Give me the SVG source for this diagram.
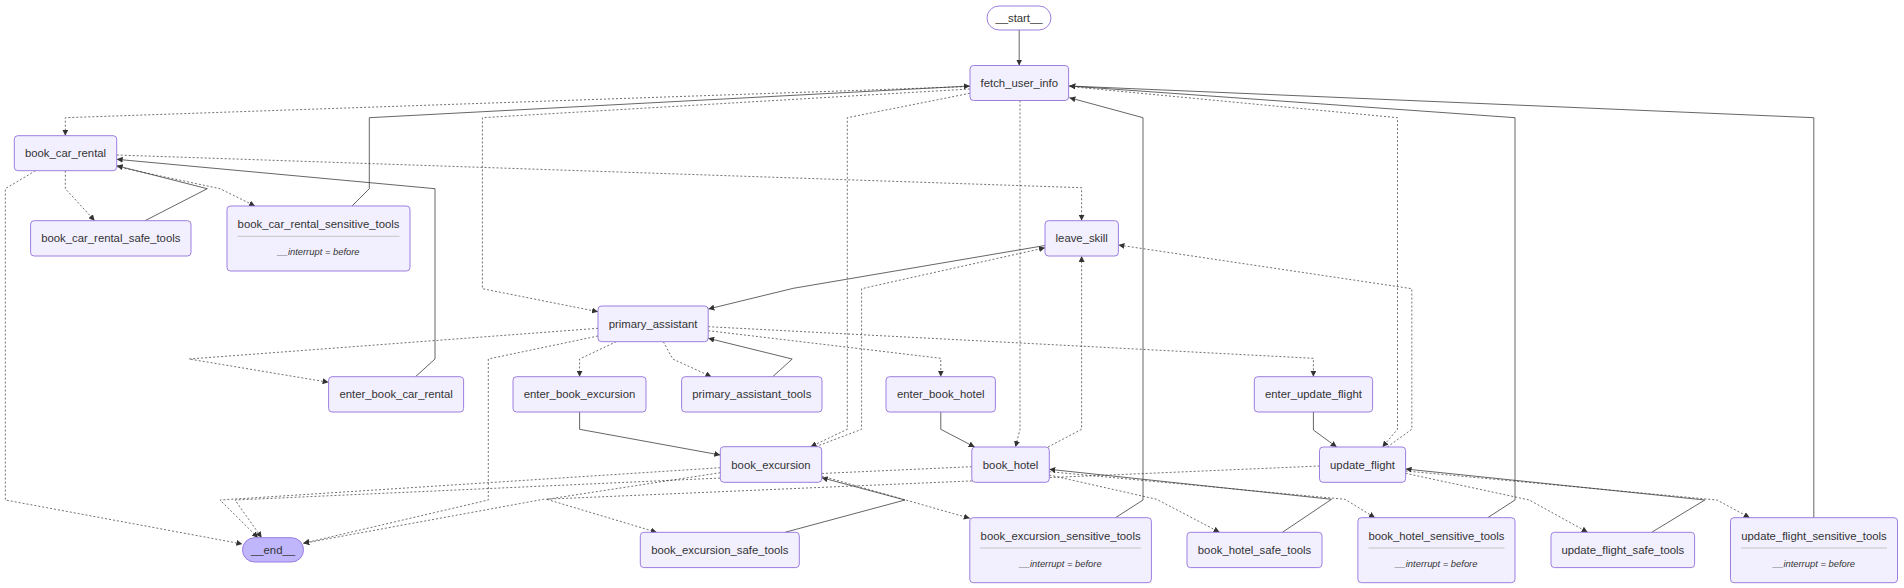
<svg xmlns="http://www.w3.org/2000/svg" width="1904" height="588" viewBox="0 0 1904 588">
<defs>
<style>
.n rect{fill:#f2f0ff;stroke:#9370db;stroke-width:0.9}
.n text{font-family:"Liberation Sans",Arial,sans-serif;font-size:11.33px;fill:#333;text-anchor:middle}
.n text.i{font-size:9.4px;font-style:italic}
.n line{stroke:#c4c4c4;stroke-width:1}
.e path{fill:none;stroke:#333;stroke-width:0.75;marker-end:url(#arr)}
.e path.d{stroke-dasharray:2 2;stroke-width:0.7}
</style>
<marker id="arr" viewBox="0 0 10 10" refX="10" refY="5" markerUnits="userSpaceOnUse" markerWidth="6" markerHeight="6" orient="auto"><path d="M0,0 L10,5 L0,10 z" fill="#333"/></marker>
</defs>
<rect width="1904" height="588" fill="#fff"/>
<g id="edges" class="e">
<path d="M1019.2,30 L1019.2,65.5"/>
<path class="d" d="M969.8,86.5 L65.3,117.7 L65.3,135.7"/>
<path class="d" d="M969.8,89 L482.4,117.7 L482.4,288.7 L598,311.7"/>
<path class="d" d="M969.8,93.3 L847.3,117.7 L847.3,429.3 L810.6,446.7"/>
<path class="d" d="M1020,100.5 L1020,429.3 L1015.5,447"/>
<path class="d" d="M1069.4,86.5 L1397.5,117.7 L1397.5,429.3 L1382.4,447"/>
<path d="M352,206 L369.3,188.7 L369.3,117.7 L969.8,86"/>
<path d="M1115.5,517.7 L1143,500 L1143,117.7 L1069.4,97.7"/>
<path d="M1487.7,517.7 L1515,500 L1515,117.7 L1069.4,86"/>
<path d="M1813.8,517.7 L1813.8,117.7 L1069.4,86"/>
<path class="d" d="M65.3,170.7 L65.3,188.7 L94.7,220.7"/>
<path d="M145,220.7 L207.3,188.7 L116.7,165.7"/>
<path class="d" d="M116.7,166.7 L220,188.7 L255,206"/>
<path class="d" d="M116.7,155 L1081.6,187.7 L1081.6,220.7"/>
<path class="d" d="M35.5,170.7 L5.3,188.7 L5.3,500 L242.4,544"/>
<path d="M415.5,376.7 L435,359 L435,188.7 L116.7,159.3"/>
<path d="M1045,245.5 L793.3,288.3 L708.3,309"/>
<path class="d" d="M598,328.3 L189,359 L328.6,382.3"/>
<path class="d" d="M598,336 L488.3,359 L488.3,500 L303.3,543.3"/>
<path class="d" d="M616.3,341.7 L579.6,359 L579.6,376.7"/>
<path class="d" d="M663.3,341.7 L672.7,359 L711.4,376.7"/>
<path d="M772.7,376.7 L792.2,359 L708.2,338.3"/>
<path class="d" d="M708.2,330.7 L940.8,358.3 L940.8,376.7"/>
<path class="d" d="M708.2,326.7 L1313.4,358.3 L1313.4,376.7"/>
<path d="M579.6,412 L579.6,429.3 L720.3,455"/>
<path d="M940.8,412 L940.8,429.3 L974.7,447"/>
<path d="M1313.4,412 L1313.4,430 L1336.7,447"/>
<path class="d" d="M815.5,446.7 L861.6,429.3 L861.6,288.7 L1045,247.8"/>
<path class="d" d="M1048,447 L1081.6,429.3 L1081.6,256"/>
<path class="d" d="M1387.3,447 L1411.8,429.3 L1411.8,288.7 L1118.4,245"/>
<path class="d" d="M720.3,467.7 L220,500 L258,537.7"/>
<path class="d" d="M971.8,466.7 L235,500 L261.7,537.7"/>
<path class="d" d="M1319.5,466 L543.3,499.3 L303.3,543.3"/>
<path class="d" d="M720.3,472.7 L546.7,499.3 L656.7,532.3"/>
<path d="M785,532.3 L905,500 L821.7,477.7"/>
<path class="d" d="M821.7,476 L903.3,499.3 L969.8,518.3"/>
<path d="M1282.4,532.3 L1331.5,499.3 L1049.3,469.3"/>
<path class="d" d="M1049.3,475 L1156.7,499.3 L1219.6,532.3"/>
<path class="d" d="M1049.3,471.7 L1345,499.3 L1375,517.7"/>
<path d="M1651.7,532.3 L1704.8,500 L1405.6,469"/>
<path class="d" d="M1405.6,473.3 L1529.3,500 L1587.7,532.3"/>
<path class="d" d="M1405.6,471 L1717,500 L1749.7,517.7"/>
</g>
<g id="start" class="n"><rect x="987" y="6" width="64" height="24" rx="12" style="fill:#fff"/><text x="1019" y="22">__start__</text></g>
<g id="fetch_user_info" class="n"><rect x="970" y="65.5" width="98.6" height="35" rx="3.5"/><text x="1019.3" y="87">fetch_user_info</text></g>
<g id="book_car_rental" class="n"><rect x="14.3" y="135.7" width="102.4" height="35" rx="3.5"/><text x="65.5" y="157.2">book_car_rental</text></g>
<g id="book_car_rental_safe_tools" class="n"><rect x="30.6" y="220.7" width="160.4" height="35.3" rx="3.5"/><text x="110.8" y="242.3">book_car_rental_safe_tools</text></g>
<g id="book_car_rental_sensitive_tools" class="n"><rect x="227" y="206" width="183" height="65" rx="3.5"/><text x="318.5" y="228.3">book_car_rental_sensitive_tools</text><line x1="237.5" y1="236.3" x2="399.5" y2="236.3"/><text class="i" x="318.5" y="255.3">__interrupt = before</text></g>
<g id="leave_skill" class="n"><rect x="1045" y="220.7" width="73.4" height="35.3" rx="3.5"/><text x="1081.7" y="242.3">leave_skill</text></g>
<g id="primary_assistant" class="n"><rect x="598" y="306" width="110.2" height="35.7" rx="3.5"/><text x="653.1" y="327.8">primary_assistant</text></g>
<g id="enter_book_car_rental" class="n"><rect x="328.6" y="376.7" width="135" height="35.3" rx="3.5"/><text x="396.1" y="398.3">enter_book_car_rental</text></g>
<g id="enter_book_excursion" class="n"><rect x="513" y="376.7" width="133" height="35.3" rx="3.5"/><text x="579.5" y="398.3">enter_book_excursion</text></g>
<g id="primary_assistant_tools" class="n"><rect x="681.6" y="376.7" width="140.4" height="35.3" rx="3.5"/><text x="751.8" y="398.3">primary_assistant_tools</text></g>
<g id="enter_book_hotel" class="n"><rect x="886" y="376.7" width="109.4" height="35.3" rx="3.5"/><text x="940.7" y="398.3">enter_book_hotel</text></g>
<g id="enter_update_flight" class="n"><rect x="1254.3" y="376.7" width="118.3" height="35.3" rx="3.5"/><text x="1313.4" y="398.3">enter_update_flight</text></g>
<g id="book_excursion" class="n"><rect x="720.3" y="446.7" width="101.4" height="35.6" rx="3.5"/><text x="771" y="468.5">book_excursion</text></g>
<g id="book_hotel" class="n"><rect x="971.8" y="447" width="77.5" height="35.3" rx="3.5"/><text x="1010.5" y="468.6">book_hotel</text></g>
<g id="update_flight" class="n"><rect x="1319.5" y="447" width="86.1" height="35.3" rx="3.5"/><text x="1362.5" y="468.6">update_flight</text></g>
<g id="book_excursion_safe_tools" class="n"><rect x="640.3" y="532.3" width="159" height="35.3" rx="3.5"/><text x="719.8" y="554">book_excursion_safe_tools</text></g>
<g id="book_excursion_sensitive_tools" class="n"><rect x="969.8" y="517.7" width="181.6" height="65" rx="3.5"/><text x="1060.6" y="540">book_excursion_sensitive_tools</text><line x1="980.3" y1="548" x2="1140.9" y2="548"/><text class="i" x="1060.6" y="567">__interrupt = before</text></g>
<g id="book_hotel_safe_tools" class="n"><rect x="1187" y="532.3" width="135" height="35.3" rx="3.5"/><text x="1254.5" y="554">book_hotel_safe_tools</text></g>
<g id="book_hotel_sensitive_tools" class="n"><rect x="1357.9" y="517.7" width="157.1" height="65" rx="3.5"/><text x="1436.4" y="540">book_hotel_sensitive_tools</text><line x1="1368.4" y1="548" x2="1504.5" y2="548"/><text class="i" x="1436.4" y="567">__interrupt = before</text></g>
<g id="update_flight_safe_tools" class="n"><rect x="1551" y="532.3" width="143.6" height="35.3" rx="3.5"/><text x="1622.8" y="554">update_flight_safe_tools</text></g>
<g id="update_flight_sensitive_tools" class="n"><rect x="1730.5" y="517.7" width="167" height="65" rx="3.5"/><text x="1814" y="540">update_flight_sensitive_tools</text><line x1="1741" y1="548" x2="1887" y2="548"/><text class="i" x="1814" y="567">__interrupt = before</text></g>
<g id="end" class="n"><rect x="242.5" y="537.7" width="61" height="24.3" rx="12" style="fill:#bfb6fc"/><text x="273" y="553.8">__end__</text></g>
</svg>
